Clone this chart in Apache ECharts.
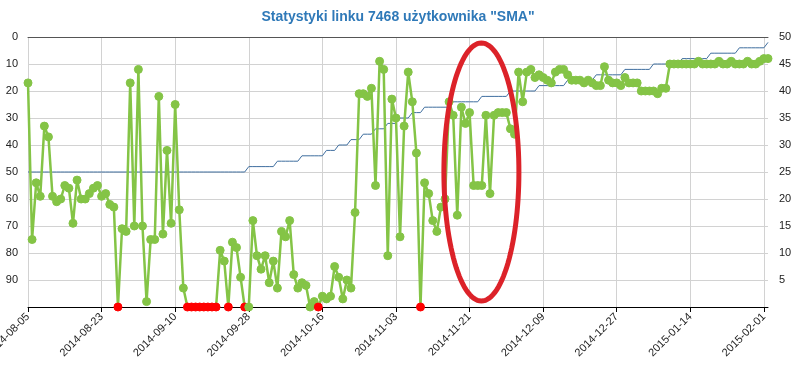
<!DOCTYPE html>
<html>
<head>
<meta charset="utf-8">
<script src="https://cdn.jsdelivr.net/npm/echarts@6/dist/echarts.min.js"></script>
<style>
  html, body { margin: 0; padding: 0; background: #fff; }
  #chart { width: 796px; height: 367px; }
</style>
</head>
<body>
<div id="chart"></div>
<script>
// ---- DATA ----
const chartTitle = 'Statystyki linku 7468 użytkownika "SMA"';
const startDate = '2014-08-05';
const dayCount = 182; // 2014-08-05 .. 2015-02-02

// link position (left axis, inverted), one per day
const positions = [
  17, 75, 54, 59, 33, 37, 59, 61, 60, 55,
  56, 69, 53, 60, 60, 58, 56, 55, 59, 58,
  62, 63, 100, 71, 72, 17, 70, 12, 70, 98,
  75, 75, 22, 73, 42, 69, 25, 64, 93, 100,
  100, 100, 100, 100, 100, 100, 100, 79, 83, 100,
  76, 78, 89, 100, 100, 68, 81, 86, 81, 91,
  83, 93, 72, 74, 68, 88, 93, 91, 92, 100,
  98, 100, 96, 97, 96, 85, 89, 97, 90, 93,
  65, 21, 21, 22, 19, 55, 9, 12, 81, 23,
  30, 74, 33, 13, 24, 43, 100, 54, 58, 68,
  72, 63, 60, 24, 29, 66, 26, 32, 28, 55,
  55, 55, 29, 58, 29, 28, 28, 28, 34, 36,
  13, 24, 13, 12, 15, 14, 15, 16, 17, 13,
  12, 12, 14, 16, 16, 16, 17, 16, 17, 18,
  18, 11, 16, 17, 17, 18, 15, 17, 17, 17,
  20, 20, 20, 20, 21, 19, 19, 10, 10, 10,
  10, 10, 10, 10, 9, 10, 10, 10, 10, 9,
  10, 10, 9, 10, 10, 10, 9, 10, 10, 9,
  8, 8
];

// days (indices) where the link was outside the top 100 (red markers)
const outsideTop100 = [22, 39, 40, 41, 42, 43, 44, 45, 46, 49, 53, 71, 96];

// cumulative count (right axis), one per day
const statCount = [
  25,25,25,25,25,25,25,25,25,25, 25,25,25,25,25,25,25,25,25,25,
  25,25,25,25,25,25,25,25,25,25, 25,25,25,25,25,25,25,25,25,25,
  25,25,25,25,25,25,25,25,25,25, 25,25,25,25,
  26,26,26,26,26,26,26,
  27,27,27,27,27,27,
  28,28,28,28,28,28,
  29,29,29, 30,30,30, 31,31,31, 32,32,32,
  33,33,33, 34,34,34, 35,35,35, 36,36,36,
  37,37,37,37,37,37,37,
  38,38,38,38,38,38,38,
  39,39,39,39,39,39,39,
  40,40,40,40,40,40,40,
  41,41,41,41,41,41,41,
  42,42,42,42,42,42,42,
  43,43,43,43,43,43,43,
  44,44,44,44,44,44,44,
  45,45,45,45,45,45,45,
  46,46,46,46,46,46,46,
  47,47,47,47,47,47,47,
  48,48,48,48,48,48,48,
  49
];

// annotation ellipse (in day index / left-axis units)
const ellipseCenterDay = 110.9;
const ellipseCenterValue = 50;

// ---- BUILD ----
const dates = [];
(function () {
  const d0 = new Date(startDate + 'T00:00:00Z');
  for (let i = 0; i < dayCount; i++) {
    const d = new Date(d0.getTime() + i * 86400000);
    dates.push(d.toISOString().slice(0, 10));
  }
})();

const GREEN = '#84c446';
const RED = '#ff0000';
const FONT = 'Arial, "Liberation Sans", sans-serif';

const greenData = positions.map((v, i) => {
  if (outsideTop100.indexOf(i) >= 0) {
    return { value: v, itemStyle: { color: RED, borderColor: RED }, z: 5 };
  }
  return v;
});

const chart = echarts.init(document.getElementById('chart'), null, { renderer: 'canvas' });

chart.setOption({
  animation: false,
  backgroundColor: '#ffffff',
  textStyle: { fontFamily: FONT },
  title: {
    text: chartTitle,
    left: 'center',
    top: 5,
    textStyle: { fontSize: 14, fontWeight: 'bold', color: '#2f79b8', fontFamily: FONT }
  },
  grid: { left: 28, right: 28, top: 37, bottom: 60, containLabel: false, outerBoundsMode: 'none' },
  xAxis: [
    {
      type: 'category',
      data: dates,
      boundaryGap: false,
      position: 'bottom',
      axisLine: { onZero: false, lineStyle: { color: '#000', width: 1 } },
      axisTick: { interval: 17, length: 5, lineStyle: { color: '#000' } },
      axisLabel: { interval: 17, rotate: 45, fontSize: 11, color: '#222', margin: 8, fontFamily: FONT },
      splitLine: { show: true, interval: 17, lineStyle: { color: '#d2d2d2', width: 1 } }
    },
    {
      type: 'category',
      data: dates,
      boundaryGap: false,
      position: 'top',
      axisLine: { onZero: false, lineStyle: { color: '#555', width: 1 } },
      axisTick: { show: false },
      axisLabel: { show: false },
      splitLine: { show: false }
    }
  ],
  yAxis: [
    {
      type: 'value',
      inverse: true,
      min: 0,
      max: 100,
      interval: 10,
      axisLine: { show: false },
      axisTick: { show: false },
      axisLabel: {
        fontSize: 11, color: '#222', margin: 10, fontFamily: FONT,
        formatter: v => (v === 100 ? '' : String(v))
      },
      splitLine: { lineStyle: { color: '#d2d2d2', width: 1 } }
    },
    {
      type: 'value',
      position: 'right',
      min: 0,
      max: 50,
      interval: 5,
      axisLine: { show: false },
      axisTick: { show: false },
      axisLabel: {
        fontSize: 11, color: '#222', margin: 11, fontFamily: FONT,
        formatter: v => (v === 0 ? '' : String(v))
      },
      splitLine: { show: false }
    }
  ],
  series: [
    {
      name: 'count',
      type: 'line',
      xAxisIndex: 0,
      yAxisIndex: 1,
      data: statCount,
      showSymbol: false,
      symbol: 'none',
      lineStyle: { color: '#3f6e9f', width: 1 },
      z: 2
    },
    {
      name: 'position',
      type: 'line',
      xAxisIndex: 0,
      yAxisIndex: 0,
      data: greenData,
      symbol: 'circle',
      symbolSize: 8,
      showAllSymbol: true,
      clip: false,
      lineStyle: { color: GREEN, width: 2.5 },
      itemStyle: { color: GREEN, borderColor: GREEN },
      z: 3
    }
  ]
});

// annotation ellipse placed from axis coordinates
(function () {
  const p0 = chart.convertToPixel({ xAxisIndex: 0 }, 0);
  const p1 = chart.convertToPixel({ xAxisIndex: 0 }, dayCount - 1);
  const step = (p1 - p0) / (dayCount - 1);
  const cx = p0 + ellipseCenterDay * step;
  const cy = chart.convertToPixel({ yAxisIndex: 0 }, ellipseCenterValue);
  const rx = 37.5;
  const ry = 129;
  const pts = [];
  for (let i = 0; i < 120; i++) {
    const a = (i / 120) * Math.PI * 2;
    pts.push([cx + rx * Math.cos(a), cy + ry * Math.sin(a)]);
  }
  chart.setOption({
    graphic: [{
      type: 'polygon',
      shape: { points: pts },
      style: { fill: 'none', stroke: '#dc2229', lineWidth: 5 },
      z: 100
    }]
  });
})();
</script>
</body>
</html>
